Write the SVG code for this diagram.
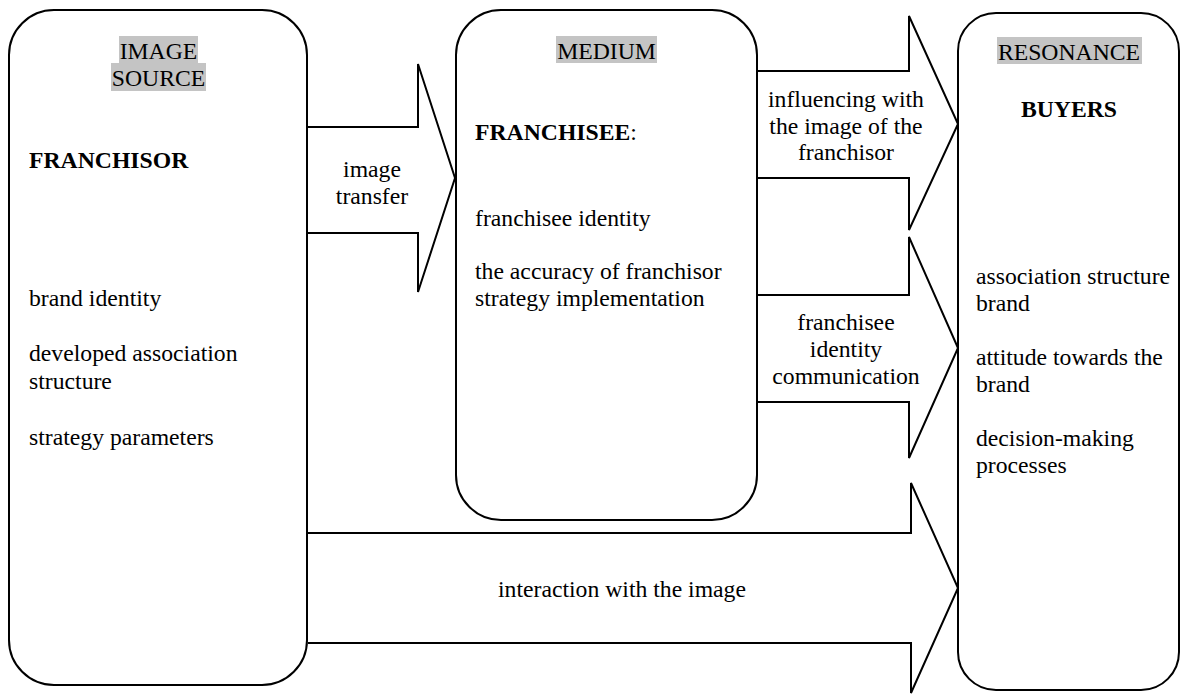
<svg xmlns="http://www.w3.org/2000/svg" width="1182" height="694" viewBox="0 0 1182 694">
<style>
  .box{fill:#fff;stroke:#000;stroke-width:2}
  .arr{fill:#fff;stroke:#000;stroke-width:2;stroke-linejoin:miter}
  .t{font-family:"Liberation Serif","Times New Roman",serif;font-size:23.7px;fill:#000}
  .b{font-weight:bold}
  .c{text-anchor:middle}
  .hl{fill:#c4c4c4}
</style>
<rect width="1182" height="694" fill="#fff"/>
<g id="image-source">
  <rect class="box" x="9" y="10" width="298" height="675" rx="45" ry="45"/>
  <rect class="hl" x="119" y="36" width="79" height="27"/>
  <rect class="hl" x="111" y="63" width="95" height="28"/>
  <text class="t c" x="158.5" y="59">IMAGE</text>
  <text class="t c" x="158.5" y="86">SOURCE</text>
  <text class="t b" x="29" y="168">FRANCHISOR</text>
  <text class="t" x="29" y="306">brand identity</text>
  <text class="t" x="29" y="361">developed association</text>
  <text class="t" x="29" y="389">structure</text>
  <text class="t" x="29" y="445">strategy parameters</text>
</g>
<g id="medium">
  <rect class="box" x="456" y="10" width="301" height="510" rx="45" ry="45"/>
  <rect class="hl" x="556" y="36" width="101" height="27"/>
  <text class="t c" x="606.5" y="59">MEDIUM</text>
  <text class="t" x="475" y="140"><tspan class="b">FRANCHISEE</tspan>:</text>
  <text class="t" x="475" y="226">franchisee identity</text>
  <text class="t" x="475" y="279">the accuracy of franchisor</text>
  <text class="t" x="475" y="306">strategy implementation</text>
</g>
<g id="resonance">
  <rect class="box" x="958" y="13" width="221" height="677" rx="38" ry="38"/>
  <rect class="hl" x="997" y="37" width="145" height="27"/>
  <text class="t c" x="1069" y="60">RESONANCE</text>
  <text class="t b c" x="1069" y="117">BUYERS</text>
  <text class="t" x="976" y="284">association structure</text>
  <text class="t" x="976" y="311">brand</text>
  <text class="t" x="976" y="365">attitude towards the</text>
  <text class="t" x="976" y="392">brand</text>
  <text class="t" x="976" y="446">decision-making</text>
  <text class="t" x="976" y="473">processes</text>
</g>
<g id="connectors">
  <g id="arrow-image-transfer">
    <path class="arr" d="M308,127 H418 V64 L455,178 L418,292 V233 H308"/>
    <text class="t c" x="372" y="177">image</text>
    <text class="t c" x="372" y="204">transfer</text>
  </g>
  <g id="arrow-influencing">
    <path class="arr" d="M758,71 H909 V16 L958,124 L909,230 V178 H758"/>
    <text class="t c" x="846" y="107">influencing with</text>
    <text class="t c" x="846" y="134">the image of the</text>
    <text class="t c" x="846" y="160">franchisor</text>
  </g>
  <g id="arrow-identity-communication">
    <path class="arr" d="M758,295 H909 V237 L958,348 L909,458 V402 H758"/>
    <text class="t c" x="846" y="330">franchisee</text>
    <text class="t c" x="846" y="357">identity</text>
    <text class="t c" x="846" y="384">communication</text>
  </g>
  <g id="arrow-interaction">
    <path class="arr" d="M308,533 H911 V483 L958,588 L911,693 V643 H308"/>
    <text class="t c" x="622" y="597">interaction with the image</text>
  </g>
</g>
</svg>
